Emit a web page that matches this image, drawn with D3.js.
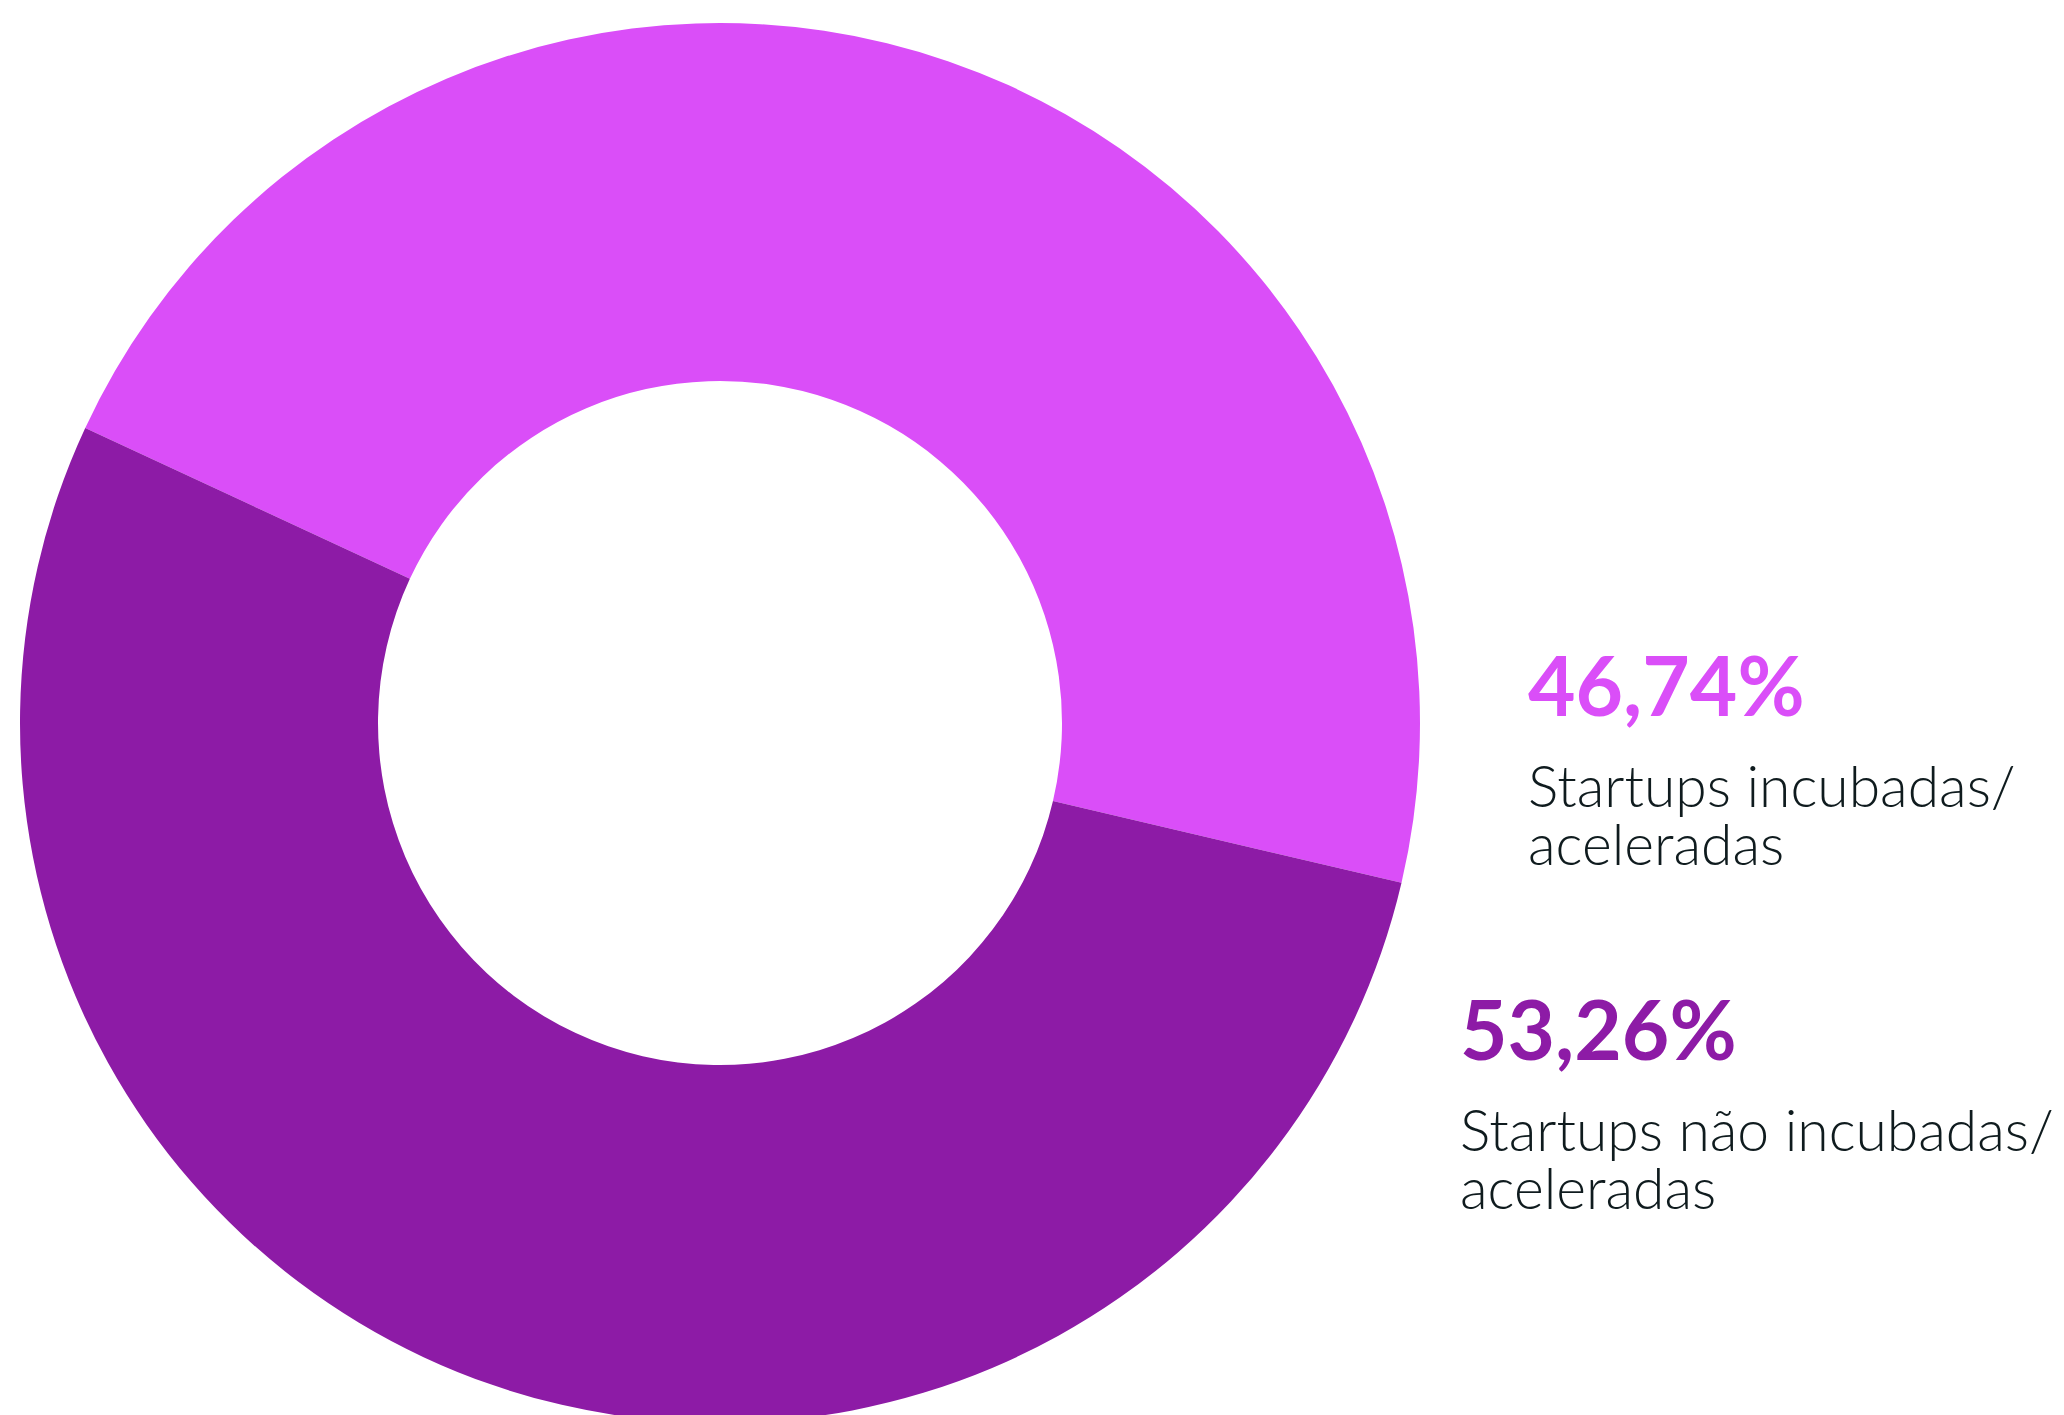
<!DOCTYPE html>
<html>
<head>
<meta charset="utf-8">
<script src="https://cdn.jsdelivr.net/npm/d3@7"></script>
<style>
  html, body { margin: 0; padding: 0; background: #ffffff; overflow: hidden; }
  svg { display: block; }
</style>
</head>
<body>
<svg id="chart" width="2064" height="1415"></svg>
<script>
const categories = ["Startups incubadas/ aceleradas", "Startups não incubadas/ aceleradas"];
const values = [46.74, 53.26];
const valueLabels = ["46,74%", "53,26%"];
const labelLines = [["Startups incubadas/", "aceleradas"], ["Startups não incubadas/", "aceleradas"]];
const colors = ["#DA4EF8", "#8D1BA6"];

const W = 2064, H = 1415;
const cx = 720, cy = 723, outerR = 700, innerR = 342;
const start = -65.07 * Math.PI / 180;

const svg = d3.select("#chart");
const g = svg.append("g").attr("transform", `translate(${cx},${cy})`);

const pie = d3.pie().sort(null).value(d => d).startAngle(start).endAngle(start + 2 * Math.PI);
const arc = d3.arc().innerRadius(innerR).outerRadius(outerR);
const color = d3.scaleOrdinal().domain(categories).range(colors);

g.selectAll("path")
  .data(pie(values))
  .enter().append("path")
  .attr("d", arc)
  .attr("fill", (d, i) => color(categories[i]));

// labels
const labelPos = [{x: 1528, y: 716}, {x: 1460, y: 1060}];
const fontFam = "Lato, 'Noto Sans', sans-serif";
labelPos.forEach((p, i) => {
  const lg = svg.append("g").attr("transform", `translate(${p.x},${p.y})`);
  lg.append("text")
    .attr("x", 0).attr("y", 0)
    .attr("font-family", fontFam)
    .attr("font-weight", 700)
    .attr("font-size", 82)
    .attr("fill", colors[i])
    .text(valueLabels[i]);
  const t = lg.append("text")
    .attr("x", 0).attr("y", 91)
    .attr("font-family", fontFam)
    .attr("font-weight", 300)
    .attr("font-size", 57)
    .attr("fill", "#0F1B1E");
  labelLines[i].forEach((line, j) => {
    t.append("tspan")
      .attr("x", 0)
      .attr("dy", j === 0 ? 0 : 58)
      .text(line);
  });
});
</script>
</body>
</html>
